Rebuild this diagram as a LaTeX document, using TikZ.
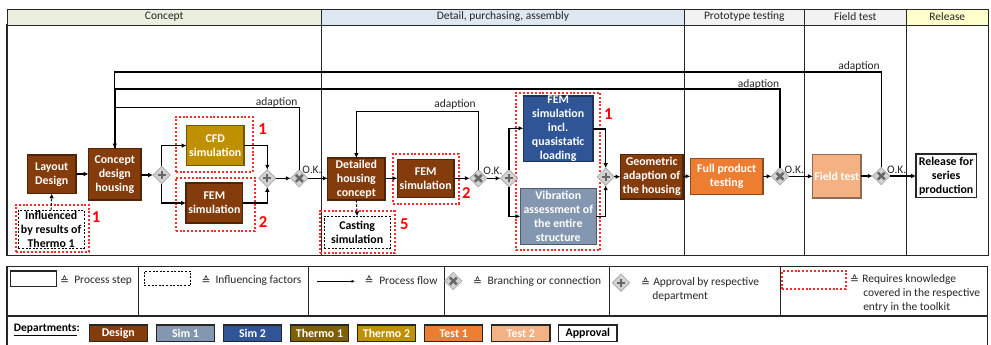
\documentclass[tikz,border=0pt]{standalone}
\usepackage{fontspec}
\setmainfont{Carlito}
\newfontfamily\symf{DejaVu Sans}
\usetikzlibrary{shapes.geometric,arrows.meta}
\definecolor{cdesign}{HTML}{843C0C}
\definecolor{csima}{HTML}{8497B0}
\definecolor{csimb}{HTML}{2F5597}
\definecolor{ctha}{HTML}{7F6000}
\definecolor{cthb}{HTML}{BF9000}
\definecolor{ctesta}{HTML}{ED7D31}
\definecolor{ctestb}{HTML}{F4B183}
\definecolor{ink}{HTML}{262626}
\definecolor{hdrA}{HTML}{EBF0DE}
\definecolor{hdrB}{HTML}{DEE8F2}
\definecolor{hdrC}{HTML}{F2F2F2}
\definecolor{hdrE}{HTML}{FFFFCC}
\definecolor{redd}{HTML}{FF2A2A}
\tikzset{
  lbl/.style={font=\fontsize{8.6}{10.5}\selectfont,text=ink,inner sep=0pt},
  stepbox/.style={draw=#1!60!black,fill=#1,line width=0.85pt,text=white,align=center,
     font=\fontsize{8.9}{10.5}\selectfont\bfseries},
  plainbox/.style={draw=ink,fill=white,line width=0.85pt,text=black,align=center,
     font=\fontsize{8.9}{10.5}\selectfont\bfseries},
  inflbox/.style={draw=black,dash pattern=on 1.5pt off 1.2pt,line width=0.7pt,fill=white,text=black,align=center,
     font=\fontsize{8.9}{10.5}\selectfont\bfseries},
  redbox/.style={draw=redd,line width=1.4pt,dash pattern=on 1.5pt off 1.4pt},
  lane/.style={draw=ink,line width=0.8pt},
  hdr/.style={draw=ink,line width=0.7pt,font=\fontsize{8.6}{10.5}\selectfont,text=ink},
  num/.style={text=red,font=\fontsize{12.5}{12.5}\selectfont\bfseries,inner sep=0pt},
  gatebase/.style={diamond,minimum size=13pt,inner sep=0pt,outer sep=0pt,draw=gray!70,fill=gray!35,line width=0.5pt},
  gateplus/.style={gatebase,path picture={
     \draw[line width=1.7pt,black!60] ([xshift=-3pt]path picture bounding box.center)--([xshift=3pt]path picture bounding box.center);
     \draw[line width=1.7pt,black!60] ([yshift=-3pt]path picture bounding box.center)--([yshift=3pt]path picture bounding box.center);}},
  gatex/.style={gatebase,path picture={
     \draw[line width=1.9pt,black!60] ([shift={(-2.6pt,-2.6pt)}]path picture bounding box.center)--([shift={(2.6pt,2.6pt)}]path picture bounding box.center);
     \draw[line width=1.9pt,black!60] ([shift={(-2.6pt,2.6pt)}]path picture bounding box.center)--([shift={(2.6pt,-2.6pt)}]path picture bounding box.center);}},
  flow/.style={draw=black,line width=1pt,-{Latex[length=3.6pt,width=3.4pt]}},
  seg/.style={draw=black,line width=1pt},
  fineflow/.style={draw=black,line width=0.5pt,-{Latex[length=2.6pt,width=2.4pt]}},
  infl/.style={draw=black,line width=0.7pt,dash pattern=on 2pt off 1.2pt,-{Latex[length=3.6pt,width=3.4pt]}},
  deptbox/.style={draw=ink,line width=0.85pt,fill=#1,text=white,font=\fontsize{8.9}{10.5}\selectfont\bfseries}
}
\newcommand\bx[7]{\node[#6,inner sep=0pt,outer sep=0pt,
   minimum width={(#4-#2)*0.75pt},minimum height={(#5-#3)*0.75pt}] (#1)
   at ({(#2+#4)/2},{(#3+#5)/2}) {#7};}
\newcommand\eqs{{\symf\fontsize{8}{9}\selectfont ≙}}
\begin{document}
\begin{tikzpicture}[x=0.75pt,y=-0.75pt]
\useasboundingbox (0,0) rectangle (991,345);
% swimlanes
\bx{laneA}{7}{25}{321.5}{255.7}{lane}{}
\bx{laneB}{321.5}{25}{684.3}{255.7}{lane}{}
\bx{laneC}{684.3}{25}{804.3}{255.7}{lane}{}
\bx{laneD}{804.3}{25}{906.3}{255.7}{lane}{}
\bx{laneE}{906.3}{25}{988.3}{255.7}{lane}{}
\bx{hA}{7}{9}{321.5}{25}{hdr,fill=hdrA}{Concept}
\bx{hB}{321.5}{9}{684.3}{25}{hdr,fill=hdrB}{Detail, purchasing, assembly}
\bx{hC}{684.3}{9}{804.3}{25}{hdr,fill=hdrC}{Prototype testing}
\bx{hD}{804.3}{9}{906.3}{25}{hdr,fill=hdrC}{Field test}
\bx{hE}{906.3}{9}{988.3}{25}{hdr,fill=hdrE}{Release}
% red requirement frames
\bx{rInfl}{15.7}{204.7}{89.3}{252}{redbox}{}
\bx{rCfd}{175.7}{116.7}{253}{172}{redbox}{}
\bx{rFem}{175.7}{178}{255}{230.7}{redbox}{}
\bx{rCast}{320}{211.3}{394.7}{253.3}{redbox}{}
\bx{rFemB}{392.7}{154}{459}{203.7}{redbox}{}
\bx{rFemC}{515.7}{92.7}{600.3}{250}{redbox}{}
% process steps
\bx{layout}{27.5}{155}{76}{193.5}{stepbox=cdesign}{Layout\\Design}
\bx{concept}{88.5}{148.5}{141}{200}{stepbox=cdesign}{Concept\\design\\housing}
\bx{cfd}{186.5}{125.5}{244}{165.7}{stepbox=cthb}{CFD\\simulation}
\bx{fem}{186}{183}{242.7}{223}{stepbox=cdesign}{FEM\\simulation}
\bx{infl}{18.3}{210}{84}{248}{inflbox}{Influenced\\by results of\\Thermo 1}
\bx{detail}{327.7}{158}{385}{200}{stepbox=cdesign}{Detailed\\housing\\concept}
\bx{femb}{397.3}{159.3}{454}{197.3}{stepbox=cdesign}{FEM\\simulation}
\bx{cast}{324.3}{216.3}{390}{248.3}{inflbox}{Casting\\simulation}
\bx{femc}{523.3}{96}{593}{161.7}{stepbox=csimb}{FEM\\simulation\\incl.\\quasistatic\\loading}
\bx{vib}{520.3}{188.7}{596.3}{244.3}{stepbox=csima}{Vibration\\assessment of\\the entire\\structure}
\bx{geo}{620.3}{154.3}{683}{199}{stepbox=cdesign}{Geometric\\adaption of\\the housing}
\bx{full}{690.3}{158.3}{763}{194.3}{stepbox=ctesta}{Full product\\testing}
\bx{field}{812.7}{154.3}{861}{198}{stepbox=ctestb}{Field test}
\bx{rel}{916}{154}{976.3}{197.7}{plainbox}{Release for\\series\\production}
% gateways
\node[gateplus] (pa) at (161.7,175) {};
\node[gateplus] (pb) at (267.3,178.3) {};
\node[gatex] (xa) at (299.3,178.3) {};
\node[gatex] (xb) at (478.3,178.3) {};
\node[gateplus] (pc) at (509,178.3) {};
\node[gateplus] (pd) at (605.7,176.7) {};
\node[gatex] (xc) at (780,176.3) {};
\node[gatex] (xd) at (881.3,176) {};
% flows
\draw[flow] (layout.east|-0,174) -- (concept.west|-0,174);
\draw[flow] (concept.east|-pa.west) -- (pa.west);
\draw[flow] (pa.north) |- (cfd.west);
\draw[flow] (pa.south) |- (fem.west|-0,203);
\draw[flow] (cfd.east) -| (pb.north);
\draw[flow] (fem.east) -| (pb.south);
\draw[flow] (pb.east) -- (xa.west);
\draw[flow] (xa.east) -- (detail.west|-xa.east);
\draw[flow] (detail.east|-0,178.3) -- (femb.west|-0,178.3);
\draw[flow] (femb.east|-xb.west) -- (xb.west);
\draw[flow] (xb.east) -- (pc.west);
\draw[flow] (pc.north) |- (femc.west|-0,128.3);
\draw[flow] (pc.south) |- (vib.west|-0,216.3);
\draw[flow] (femc.east) -| (pd.north);
\draw[flow] (vib.east) -| (pd.south);
\draw[flow] (pd.east) -- (geo.west|-pd.east);
\draw[flow] (geo.east|-0,176.3) -- (full.west|-0,176.3);
\draw[flow] (full.east|-xc.west) -- (xc.west);
\draw[flow] (xc.east) -- (field.west|-xc.east);
\draw[flow] (field.east|-xd.west) -- (xd.west);
\draw[flow] (xd.east) -- (rel.west|-xd.east);
\draw[infl] (infl.north) -- (layout.south);
\draw[infl] (detail.south) -- (cast.north);
% loops
\draw[flow] (xa.north) |- (concept.north|-0,107.7) -- (concept.north);
\draw[flow] (xb.north) |- (detail.north|-0,111.7) -- (detail.north);
\draw[seg,line width=1.3pt] (xc.north) |- (concept.north|-0,89) -- (concept.north);
\draw[seg] (xd.north) |- (concept.north|-0,72) -- (concept.north);
% labels
\node[lbl] (la) at (276.7,102.3) {adaption};
\node[lbl] (lb) at (455,104.3) {adaption};
\node[lbl] (lc) at (758.5,84.5) {adaption};
\node[lbl] (ld) at (859,66.3) {adaption};
\node[lbl] (oa) at (312,170.3) {O.K.};
\node[lbl] (ob) at (493,171.3) {O.K.};
\node[lbl] (oc) at (794.3,170.3) {O.K.};
\node[lbl] (od) at (896.7,170.3) {O.K.};
\node[num] (na) at (96,217) {1};
\node[num] (nb) at (262.7,129) {1};
\node[num] (nc) at (263,222) {2};
\node[num] (nd) at (466.3,192.7) {2};
\node[num] (ne) at (404.3,224.3) {5};
\node[num] (nf) at (608.3,114.3) {1};
% legend
\bx{lgA}{7}{266.7}{138.3}{316}{lane}{}
\bx{lgB}{138.3}{266.7}{308.3}{316}{lane}{}
\bx{lgC}{308.3}{266.7}{444.3}{316}{lane}{}
\bx{lgD}{444.3}{266.7}{609.3}{316}{lane}{}
\bx{lgE}{609.3}{266.7}{780.3}{316}{lane}{}
\bx{lgF}{780.3}{266.7}{987.7}{316}{lane}{}
\bx{lgG}{7}{316}{987.7}{352}{lane}{}
\bx{kStep}{10.3}{271}{56.7}{286.7}{plainbox}{}
\node[lbl,anchor=center] (eA) at (64.7,280.5) {\eqs};
\node[lbl,anchor=west] (tA) at (74,280.5) {Process step};
\bx{kInfl}{144.3}{271}{190.7}{285.7}{inflbox}{}
\node[lbl] (eB) at (206,280.5) {\eqs};
\node[lbl,anchor=west] (tB) at (215.3,280.5) {Influencing factors};
\coordinate (kA) at (317,281.3);
\coordinate (kB) at (355,281.3);
\draw[fineflow] (kA) -- (kB);
\node[lbl] (eC) at (369,280.5) {\eqs};
\node[lbl,anchor=west] (tC) at (379,280.5) {Process flow};
\node[gatex] (kX) at (453.3,281) {};
\node[lbl] (eD) at (477.7,281.5) {\eqs};
\node[lbl,anchor=west] (tD) at (487.3,281.5) {Branching or connection};
\node[gateplus] (kP) at (621,282.7) {};
\node[lbl] (eE) at (645.7,282.3) {\eqs};
\node[lbl,anchor=west] (tE) at (653,282.3) {Approval by respective};
\node[lbl,anchor=west] (tE2) at (652,296.3) {department};
\bx{kRed}{782.3}{270.7}{846}{289}{redbox}{}
\node[lbl] (eF) at (854.7,279.5) {\eqs};
\node[lbl,anchor=west] (tF) at (862,279.5) {Requires knowledge};
\node[lbl,anchor=west] (tF2) at (863,293.5) {covered in the respective};
\node[lbl,anchor=west] (tF3) at (863,307.5) {entry in the toolkit};
% departments
\node[lbl,anchor=west,text=black,font=\fontsize{8.6}{10.5}\selectfont\bfseries] (dep) at (13.7,330.5) {\underline{Departments}:};
\bx{dA}{89.3}{325}{147.3}{341.7}{deptbox=cdesign}{Design}
\bx{dB}{156.3}{325}{214.7}{341.7}{deptbox=csima}{Sim 1}
\bx{dC}{223.3}{325}{281.7}{341.7}{deptbox=csimb}{Sim 2}
\bx{dD}{290.3}{325}{348.7}{341.7}{deptbox=ctha}{Thermo 1}
\bx{dE}{357.3}{325}{415.7}{341.7}{deptbox=cthb}{Thermo 2}
\bx{dF}{424.7}{325}{482.7}{341.7}{deptbox=ctesta}{Test 1}
\bx{dG}{491.7}{325}{550}{341.7}{deptbox=ctestb}{Test 2}
\bx{dH}{558.7}{325}{617}{341.7}{plainbox}{Approval}
\end{tikzpicture}
\end{document}
